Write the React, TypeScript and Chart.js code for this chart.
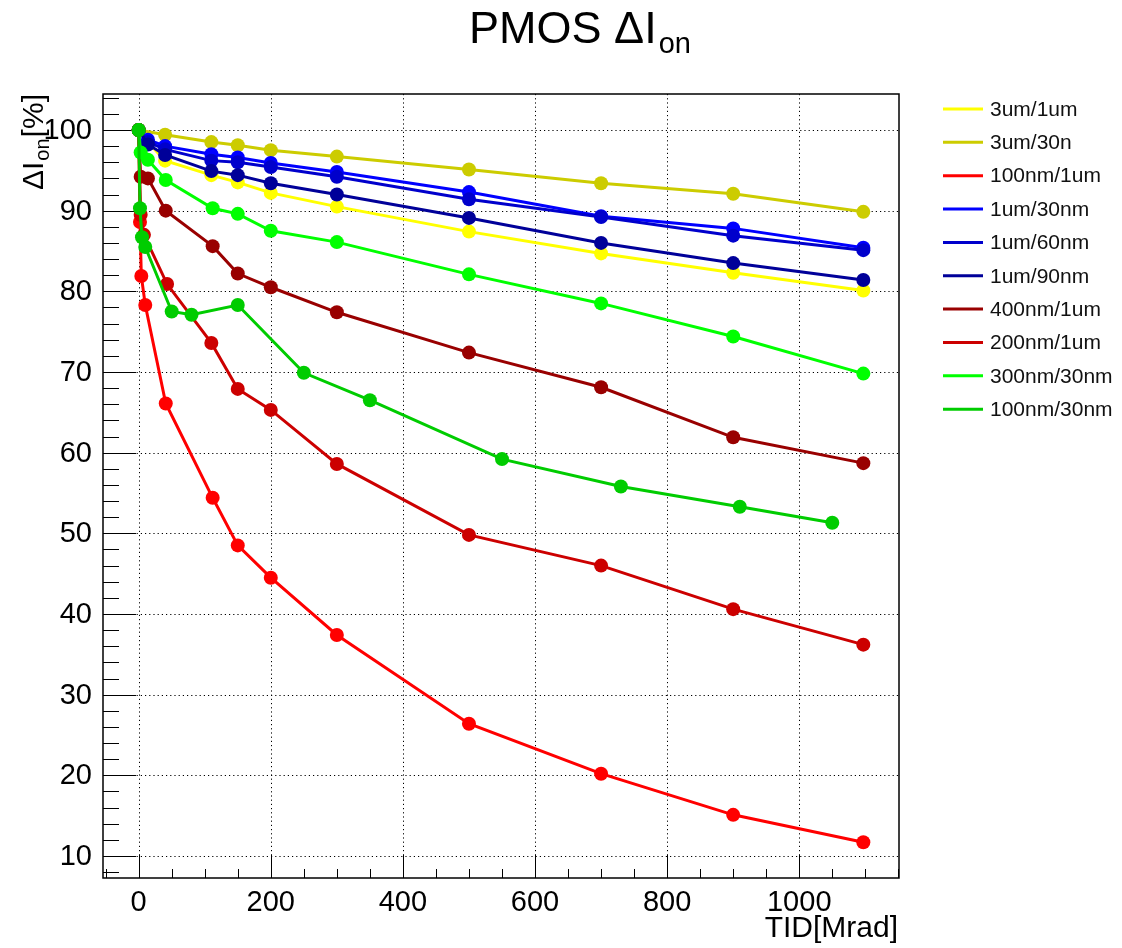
import React, { useEffect, useRef } from "react";
import { Chart, registerables } from "chart.js";

Chart.register(...registerables);

// ---------- data ----------
const seriesNames = [
  "3um/1um",
  "3um/30n",
  "100nm/1um",
  "1um/30nm",
  "1um/60nm",
  "1um/90nm",
  "400nm/1um",
  "200nm/1um",
  "300nm/30nm",
  "100nm/30nm",
];
const seriesColors = [
  "#ffff00",
  "#cccc00",
  "#ff0000",
  "#0000ff",
  "#0000cc",
  "#000099",
  "#990000",
  "#cc0000",
  "#00ff00",
  "#00cc00",
];

const x3um1um = [0, 14, 40, 110, 150, 200, 300, 500, 700, 900, 1097];
const y3um1um = [100, 98.5, 96.2, 94.4, 93.5, 92.2, 90.5, 87.4, 84.7, 82.3, 80.1];

const x3um30n = [0, 40, 110, 150, 200, 300, 500, 700, 900, 1097];
const y3um30n = [100, 99.4, 98.5, 98.1, 97.5, 96.7, 95.1, 93.4, 92.1, 89.85];

const x100nm1um = [0, 2, 4, 10, 41, 112, 150, 200, 300, 500, 700, 900, 1097];
const y100nm1um = [100, 88.6, 81.9, 78.3, 66.1, 54.4, 48.5, 44.5, 37.4, 26.4, 20.2, 15.1, 11.7];

const x1um30nm = [0, 14, 40, 110, 150, 200, 300, 500, 700, 900, 1097];
const y1um30nm = [100, 98.8, 98.0, 97.0, 96.6, 95.9, 94.8, 92.3, 89.3, 87.8, 85.4];

const x1um60nm = [0, 14, 40, 110, 150, 200, 300, 500, 700, 900, 1097];
const y1um60nm = [100, 98.5, 97.6, 96.2, 96.0, 95.4, 94.2, 91.4, 89.2, 86.9, 85.1];

const x1um90nm = [0, 14, 40, 110, 150, 200, 300, 500, 700, 900, 1097];
const y1um90nm = [100, 98.2, 96.9, 94.9, 94.4, 93.4, 92.0, 89.1, 86.0, 83.5, 81.4];

const x400nm1um = [0, 3, 14, 41, 112, 150, 200, 300, 500, 700, 900, 1097];
const y400nm1um = [100, 94.2, 94.0, 90.0, 85.6, 82.2, 80.5, 77.4, 72.4, 68.1, 61.9, 58.7];

const x200nm1um = [0, 3, 8, 43, 110, 150, 200, 300, 500, 700, 900, 1097];
const y200nm1um = [100, 89.5, 87.0, 80.9, 73.6, 67.9, 65.3, 58.6, 49.8, 46.0, 40.6, 36.2];

const x300nm30nm = [0, 3, 14, 41, 112, 150, 200, 300, 500, 700, 900, 1097];
const y300nm30nm = [100, 97.2, 96.3, 93.8, 90.3, 89.6, 87.5, 86.1, 82.1, 78.5, 74.4, 69.8];

const x100nm30nm = [0, 2, 5, 10, 50, 80, 150, 250, 350, 550, 730, 910, 1050];
const y100nm30nm = [100, 90.3, 86.7, 85.5, 77.5, 77.1, 78.3, 69.9, 66.5, 59.2, 55.8, 53.3, 51.3];

const seriesX = [x3um1um, x3um30n, x100nm1um, x1um30nm, x1um60nm, x1um90nm, x400nm1um, x200nm1um, x300nm30nm, x100nm30nm];
const seriesY = [y3um1um, y3um30n, y100nm1um, y1um30nm, y1um60nm, y1um90nm, y400nm1um, y200nm1um, y300nm30nm, y100nm30nm];

const xTickLabels = [0, 200, 400, 600, 800, 1000];
const yTickLabels = [10, 20, 30, 40, 50, 60, 70, 80, 90, 100];

const X_MIN = -54;
const X_MAX = 1151;
const Y_MIN = 7.27;
const Y_MAX = 104.46;

const FONT = "'Liberation Sans', Arial, Helvetica, sans-serif";

const rootStylePlugin = {
  id: "rootStyle",
  beforeDatasetsDraw(chart: any) {
    const ctx = chart.ctx as CanvasRenderingContext2D;
    const { left, right, top, bottom } = chart.chartArea;
    const xs = chart.scales.x;
    const ys = chart.scales.y;
    ctx.save();
    // dotted grid
    ctx.strokeStyle = "#000";
    ctx.lineWidth = 1;
    ctx.setLineDash([1.2, 3]);
    for (const v of xTickLabels) {
      const px = Math.round(xs.getPixelForValue(v)) + 0.5;
      ctx.beginPath();
      ctx.moveTo(px, top);
      ctx.lineTo(px, bottom);
      ctx.stroke();
    }
    for (const v of yTickLabels) {
      const py = Math.round(ys.getPixelForValue(v)) + 0.5;
      ctx.beginPath();
      ctx.moveTo(left, py);
      ctx.lineTo(right, py);
      ctx.stroke();
    }
    ctx.setLineDash([]);
    // ticks
    ctx.lineWidth = 1;
    for (let v = -50; v <= X_MAX; v += 50) {
      if (v < X_MIN) continue;
      const major = v % 200 === 0;
      const px = Math.round(xs.getPixelForValue(v)) + 0.5;
      ctx.beginPath();
      ctx.moveTo(px, bottom);
      ctx.lineTo(px, bottom - (major ? 23 : 9));
      ctx.stroke();
    }
    for (let v = 8; v <= Y_MAX; v += 2) {
      const major = v % 10 === 0;
      const py = Math.round(ys.getPixelForValue(v)) + 0.5;
      ctx.beginPath();
      ctx.moveTo(left, py);
      ctx.lineTo(left + (major ? 33 : 16), py);
      ctx.stroke();
    }
    // frame
    ctx.lineWidth = 1.5;
    ctx.strokeRect(left, top, right - left, bottom - top);
    ctx.restore();
  },
  afterDraw(chart: any) {
    const ctx = chart.ctx as CanvasRenderingContext2D;
    const { right } = chart.chartArea;
    const xs = chart.scales.x;
    const ys = chart.scales.y;
    ctx.save();
    ctx.fillStyle = "#000";
    // tick labels
    ctx.font = `29px ${FONT}`;
    ctx.textAlign = "right";
    ctx.textBaseline = "middle";
    for (const v of yTickLabels) {
      ctx.fillText(String(v), 92, ys.getPixelForValue(v) + 1);
    }
    ctx.textAlign = "center";
    ctx.textBaseline = "alphabetic";
    for (const v of xTickLabels) {
      ctx.fillText(String(v), xs.getPixelForValue(v), 911);
    }
    // x title
    ctx.font = `30px ${FONT}`;
    ctx.textAlign = "right";
    ctx.fillText("TID[Mrad]", right - 1, 937);
    // title
    ctx.textAlign = "left";
    const tMain = "PMOS \u0394I";
    const tSub = "on";
    ctx.font = `45px ${FONT}`;
    const wMain = ctx.measureText(tMain).width;
    ctx.font = `29px ${FONT}`;
    const wSub = ctx.measureText(tSub).width;
    const tx = 580 - (wMain + wSub + 2) / 2;
    ctx.font = `45px ${FONT}`;
    ctx.fillText(tMain, tx, 43);
    ctx.font = `29px ${FONT}`;
    ctx.fillText(tSub, tx + wMain + 2, 53);
    // y title (rotated)
    ctx.save();
    ctx.translate(43, 190);
    ctx.rotate(-Math.PI / 2);
    ctx.textAlign = "left";
    ctx.font = `30px ${FONT}`;
    const a = "\u0394I";
    ctx.fillText(a, 0, 0);
    let off = ctx.measureText(a).width + 1;
    ctx.font = `20px ${FONT}`;
    ctx.fillText("on", off, 6);
    off += ctx.measureText("on").width + 1;
    ctx.font = `30px ${FONT}`;
    ctx.fillText("[%]", off, 0);
    ctx.restore();
    // legend
    ctx.font = `21px ${FONT}`;
    ctx.textBaseline = "middle";
    ctx.textAlign = "left";
    for (let i = 0; i < seriesNames.length; i++) {
      const yy = 109 + i * 33.35;
      ctx.strokeStyle = seriesColors[i];
      ctx.lineWidth = 3;
      ctx.beginPath();
      ctx.moveTo(943, yy);
      ctx.lineTo(983, yy);
      ctx.stroke();
      ctx.fillStyle = "#111";
      ctx.fillText(seriesNames[i], 990, yy + 1);
    }
    ctx.restore();
  },
};

export default function App() {
  const canvasRef = useRef<HTMLCanvasElement | null>(null);

  useEffect(() => {
    const canvas = canvasRef.current;
    if (!canvas) return;
    const datasets = seriesNames.map((name, i) => ({
      label: name,
      data: seriesX[i].map((x, j) => ({ x, y: seriesY[i][j] })),
      borderColor: seriesColors[i],
      backgroundColor: seriesColors[i],
      pointBackgroundColor: seriesColors[i],
      pointBorderColor: seriesColors[i],
      pointBorderWidth: 0,
      pointRadius: 7,
      borderWidth: 3,
      tension: 0,
      fill: false,
      order: seriesNames.length - i,
    }));
    const chart = new Chart(canvas, {
      type: "line",
      data: { datasets },
      options: {
        animation: false,
        responsive: false,
        devicePixelRatio: 1,
        layout: { padding: { left: 103, top: 94, right: 223, bottom: 70 } },
        plugins: { legend: { display: false }, title: { display: false }, tooltip: { enabled: false } },
        scales: {
          x: { type: "linear", min: X_MIN, max: X_MAX, display: false },
          y: { type: "linear", min: Y_MIN, max: Y_MAX, display: false },
        },
      },
      plugins: [rootStylePlugin],
    });
    return () => chart.destroy();
  }, []);

  return (
    <div style={{ position: "absolute", left: 0, top: 0, width: 1122, height: 948, background: "#fff" }}>
      <canvas ref={canvasRef} width={1122} height={948} style={{ display: "block" }} />
    </div>
  );
}
